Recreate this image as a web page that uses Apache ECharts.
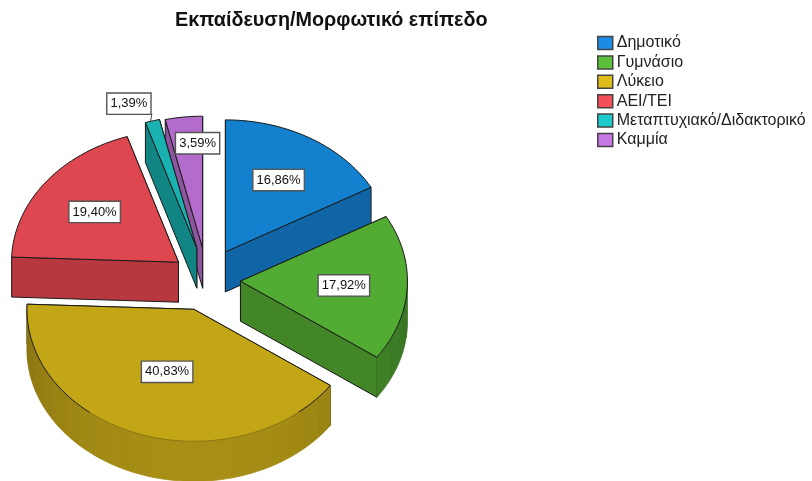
<!DOCTYPE html>
<html>
<head>
<meta charset="utf-8">
<style>html,body{margin:0;padding:0;background:#fff}#c{width:812px;height:481px}</style>
<script src="https://cdn.jsdelivr.net/npm/echarts@6/dist/echarts.min.js"></script>
</head>
<body>
<div id="c"></div>
<script>
// ---- data ----
const chartTitle = 'Εκπαίδευση/Μορφωτικό επίπεδο';
const categories = ['Δημοτικό', 'Γυμνάσιο', 'Λύκειο', 'ΑΕΙ/ΤΕΙ', 'Μεταπτυχιακό/Διδακτορικό', 'Καμμία'];
const percents = [16.86, 17.92, 40.83, 19.40, 1.39, 3.59];

// ---- styles ----
const legendColors = ['#1a8ce6', '#5cc038', '#e0bc19', '#f44f58', '#1ccccc', '#c779e3'];
const topColors = ['#1280cc', '#52ab32', '#c3a616', '#de474f', '#19b2b0', '#b36ccb'];
const wallColors = ['#0f65a5', '#428628', '#a18914', '#b7393f', '#108583', '#8c559e'];
const paintOrder = [2, 3, 6, 4, 5, 1];   // z of each slice (back to front)

// ---- projection of the tilted pie ----
const center = [206, 279], radius = [167, 132], depth = 40, explode = [34.5, 32];
const sliceNudge = [[2, 0.5], [0, 0.5], [-1, 0], [0, 2.5], [0, 0], [0.5, 1]];
// label placement: fraction of the radius along the mid-angle, then a pixel nudge
const labelFraction = [0.63, 0.62, 0.5, 0.63, 1.124, 0.8];
const labelNudge = [[0, 0], [0, 0], [0, 0], [0, 0], [-18, -1.5], [10, 0]];
const EDGE = '#1a1a1a';

const total = percents.reduce((a, b) => a + b, 0);
const starts = [];
percents.reduce((acc, v, i) => { starts[i] = acc; return acc + v; }, 0);

function shade(hex, f) {
  const n = parseInt(hex.slice(1), 16);
  const c = [(n >> 16) & 255, (n >> 8) & 255, n & 255].map(v => Math.round(Math.min(255, v * f)));
  return 'rgb(' + c.join(',') + ')';
}

function makeRender(i) {
  return function (params, api) {
    const value = api.value(0), start = api.value(1);
    const a0 = start / total * 360, a1 = (start + value) / total * 360;
    const rad = d => d * Math.PI / 180;
    const mid = rad((a0 + a1) / 2);
    const ax = center[0] + explode[0] * Math.sin(mid) + sliceNudge[i][0];
    const ay = center[1] - explode[1] * Math.cos(mid) + sliceNudge[i][1];
    const pt = d => [ax + radius[0] * Math.sin(rad(d)), ay - radius[1] * Math.cos(rad(d))];
    const low = p => [p[0], p[1] + depth];
    const apex = [ax, ay];
    const children = [];

    // radial walls: the one further back is painted first
    [a0, a1].sort((p, q) => pt(p)[1] - pt(q)[1]).forEach(d => {
      const p = pt(d);
      children.push({
        type: 'polygon', shape: { points: [apex, p, low(p), low(apex)] },
        style: { fill: wallColors[i], stroke: EDGE, lineWidth: 1 }
      });
    });

    // outer curved wall, only on the near half of the ellipse
    const w0 = Math.max(a0, 90), w1 = Math.min(a1, 270), band = 7;
    for (let d = w0; d < w1; d += band) {
      const e = Math.min(d + band, w1);
      const f = 0.84 + 0.2 * Math.abs(Math.cos(rad((d + e) / 2)));
      const col = shade(wallColors[i], f);
      const pts = [];
      for (let k = 0; k <= 4; k++) pts.push(pt(d + (e - d) * k / 4));
      for (let k = 4; k >= 0; k--) pts.push(low(pt(d + (e - d) * k / 4)));
      children.push({
        type: 'polygon', shape: { points: pts },
        style: { fill: col, stroke: col, lineWidth: 0.8 }
      });
    }

    // top face
    const arc = [];
    const steps = Math.max(2, Math.ceil((a1 - a0) / 2));
    for (let k = 0; k <= steps; k++) arc.push(pt(a0 + (a1 - a0) * k / steps));
    children.push({
      type: 'polygon', shape: { points: [apex].concat(arc) },
      style: { fill: topColors[i], stroke: null }
    });
    children.push({ type: 'polyline', shape: { points: [arc[0], apex, arc[arc.length - 1]] },
      style: { fill: null, stroke: EDGE, lineWidth: 1 } });
    for (let k = 0; k < steps; k++) {
      const d = a0 + (a1 - a0) * (k + 0.5) / steps;
      const faded = d > 141 && d < 218;
      children.push({ type: 'line', shape: { x1: arc[k][0], y1: arc[k][1], x2: arc[k + 1][0], y2: arc[k + 1][1] },
        style: { stroke: faded ? shade(wallColors[i], 0.85) : EDGE, lineWidth: 1 } });
    }

    // value label
    const lf = labelFraction[i], n = labelNudge[i];
    const lx = ax + radius[0] * lf * Math.sin(mid) + n[0];
    const ly = ay - radius[1] * lf * Math.cos(mid) + n[1];
    if (lf > 1) {
      const tip = pt((a0 + a1) / 2);
      children.push({ type: 'line', shape: { x1: lx + 23, y1: ly + 10, x2: tip[0] - 2, y2: tip[1] + 1 },
        style: { stroke: '#444', lineWidth: 1 } });
    }
    children.push({
      type: 'text', z2: 100,
      style: {
        x: lx, y: ly, align: 'center', verticalAlign: 'middle',
        text: value.toFixed(2).replace('.', ',') + '%',
        font: '13px "Liberation Sans", Arial, sans-serif', fill: '#111',
        backgroundColor: '#fff', borderColor: '#555', borderWidth: 1.4,
        padding: [4, 3, 3, 3]
      }
    });
    return { type: 'group', children };
  };
}

const chart = echarts.init(document.getElementById('c'), null, { renderer: 'canvas' });
chart.setOption({
  animation: false,
  backgroundColor: '#fff',
  title: {
    text: chartTitle, left: 170, top: 6,
    textStyle: { fontFamily: '"Liberation Sans", Arial, sans-serif', fontWeight: 'bold', fontSize: 19.8, color: '#111' }
  },
  legend: {
    orient: 'vertical', left: 592, top: 30, selectedMode: false,
    itemWidth: 15, itemHeight: 13, itemGap: 3.4, icon: 'rect',
    textStyle: { fontFamily: '"Liberation Sans", Arial, sans-serif', fontSize: 16, lineHeight: 14, color: '#222', padding: [0, 0, 0, -1] },
    data: categories.map((name, i) => ({
      name, itemStyle: { color: legendColors[i], borderColor: '#444', borderWidth: 1.5 }
    }))
  },
  series: categories.map((name, i) => ({
    type: 'custom', name, coordinateSystem: 'none', silent: true, z: paintOrder[i],
    itemStyle: { color: legendColors[i] },
    renderItem: makeRender(i),
    data: [[percents[i], starts[i]]]
  }))
});
</script>
</body>
</html>
